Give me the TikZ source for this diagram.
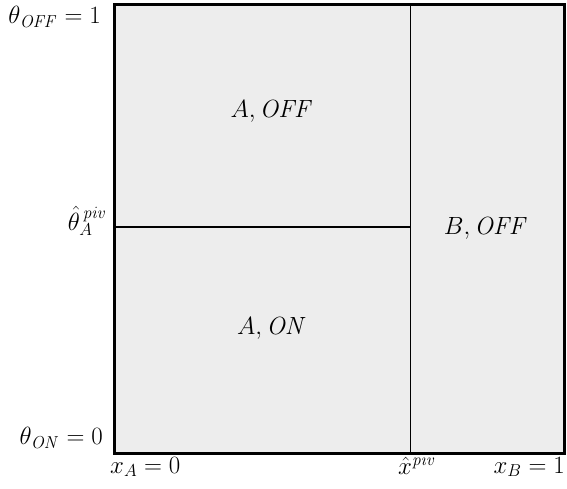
\documentclass[tikz,border=0pt]{standalone}
\begin{document}
\begin{tikzpicture}[x=1pt,y=-1pt,
  lbl/.style={inner sep=0pt,font=\fontsize{23}{27}\selectfont},
  divider/.style={line width=1.3pt},
  divider2/.style={line width=1.8pt}]
\useasboundingbox (0,0) rectangle (567,488);
% box corners
\coordinate (tl) at (114.5,4);
\coordinate (br) at (564.5,453);
\coordinate (vt) at (410.5,4);
\coordinate (vb) at (410.5,453);
\coordinate (hl) at (114.5,227);
\coordinate (hr) at (410.5,227);
\fill[gray!14] (tl) rectangle (br);
\draw[divider] (vt) -- (vb);
\draw[divider2] (hl) -- (hr);
\draw[line width=3pt] (tl) rectangle (br);
% region labels
\node[lbl] (aoff) at (272,111) {$A, \mathit{OFF}$};
\node[lbl] (aon) at (272,328) {$A, \mathit{ON}$};
\node[lbl] (boff) at (486,228) {$B, \mathit{OFF}$};
% axis labels
\node[lbl,anchor=east] (toff) at (101,17) {$\theta_{\mathit{OFF}}=1$};
\node[lbl,anchor=east] (thatp) at (107,221) {$\hat{\theta}^{\,\mathit{piv}}_{A}$};
\node[lbl,anchor=east] (ton) at (103,438) {$\theta_{\mathit{ON}}=0$};
\node[lbl,anchor=west] (xa) at (110,467) {$x_A=0$};
\node[lbl,anchor=west] (xhat) at (398,464) {$\hat{x}^{\mathit{piv}}$};
\node[lbl,anchor=east] (xb) at (565,467) {$x_B=1$};
\end{tikzpicture}
\end{document}
